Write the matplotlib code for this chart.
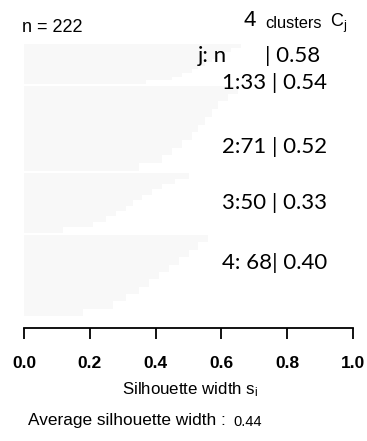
import numpy as np
import matplotlib.pyplot as plt

# cluster sizes and average silhouette widths
cluster_ids = [1, 2, 3, 4]
cluster_n = [33, 71, 50, 68]
cluster_avg = [0.54, 0.52, 0.33, 0.40]
cluster_labels = ["1:33 | 0.54", "2:71 | 0.52", "3:50 | 0.33", "4: 68| 0.40"]

# silhouette widths per cluster, read as bands (sorted, top to bottom)
sil_c1 = [0.66, 0.63, 0.61, 0.59, 0.57, 0.55, 0.53, 0.51, 0.48, 0.45, 0.37]
sil_c2 = [0.65, 0.62, 0.59, 0.57, 0.55, 0.53, 0.51, 0.48, 0.45, 0.42, 0.35]
sil_c3 = [0.50, 0.46, 0.42, 0.39, 0.36, 0.33, 0.31, 0.28, 0.25, 0.21, 0.12]
sil_c4 = [0.56, 0.53, 0.50, 0.47, 0.44, 0.41, 0.38, 0.35, 0.31, 0.27, 0.18]
sil_all = [sil_c1, sil_c2, sil_c3, sil_c4]

n_total = 222
overall_avg = 0.44
xticks = [0.0, 0.2, 0.4, 0.6, 0.8, 1.0]

plt.rcParams['mathtext.fontset'] = 'custom'
plt.rcParams['mathtext.rm'] = 'Liberation Sans'
plt.rcParams['mathtext.it'] = 'Liberation Sans'

W, H = 367, 441
fig = plt.figure(figsize=(W / 100, H / 100), dpi=100)
ax = fig.add_axes([24 / W, 1 - 328 / H, 329 / W, (328 - 42) / H])

def px(x, y):
    return x / W, 1 - y / H

gap = 2
top = 238
y = top
for n, vals in zip(cluster_n, sil_all):
    h = n / len(vals)
    ys = y - h * (np.arange(len(vals)) + 0.5)
    ax.barh(ys, vals, height=h, color='#f8f8f8', edgecolor='none')
    y -= n + gap

ax.set_xlim(0, 1)
ax.set_ylim(0, 240)
for s in ['top', 'right', 'left']:
    ax.spines[s].set_visible(False)
ax.spines['bottom'].set_bounds(0, 1)
ax.spines['bottom'].set_linewidth(1.3)
ax.set_yticks([])
ax.set_xticks(xticks)
ax.set_xticklabels([f"{t:.1f}" for t in xticks], fontsize=12.5, fontweight='bold',
                   family='Liberation Sans')
ax.tick_params(axis='x', direction='out', length=8, width=1.3, pad=12)

# header texts
fig.text(*px(22, 27), f"n = {n_total}", fontsize=13, family='Liberation Sans',
         va='center', ha='left')
fig.text(*px(243, 21), "4", fontsize=16, family='Liberation Sans', va='center', ha='left')
fig.text(*px(265, 23), "clusters", fontsize=11.8, family='Liberation Sans', va='center', ha='left')
fig.text(*px(330, 23), r"C$_\mathrm{j}$", fontsize=13, family='Liberation Sans',
         va='center', ha='left')

fig.text(*px(198, 56), "j: n", fontsize=16, family='Lato', va='center', ha='left')
fig.text(*px(320, 56), "| 0.58", fontsize=16, family='Lato', va='center', ha='right')

label_px = [83, 147, 203, 263]
for lab, yy in zip(cluster_labels, label_px):
    fig.text(*px(327, yy), lab, fontsize=16, family='Lato', va='center', ha='right')

fig.text(*px(190, 390), r"Silhouette width s$_\mathrm{i}$", fontsize=12.2,
         family='Liberation Sans', va='center', ha='center')
fig.text(*px(28, 421), "Average silhouette width : ", fontsize=12.4,
         family='Liberation Sans', va='center', ha='left')
fig.text(*px(233, 422), f"{overall_avg:.2f}", fontsize=10.5,
         family='Liberation Sans', va='center', ha='left')

fig.savefig("out.png", dpi=100)
